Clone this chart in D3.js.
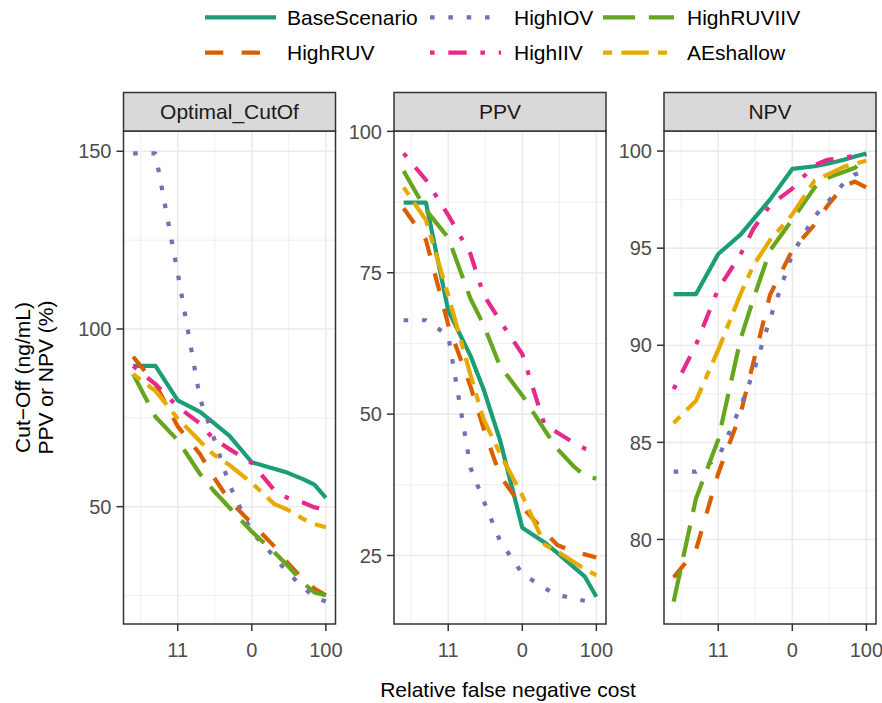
<!DOCTYPE html>
<html>
<head>
<meta charset="utf-8">
<script src="https://cdn.jsdelivr.net/npm/d3@7"></script>
<style>
  body { margin: 0; background: #fff; }
  text { font-family: "Liberation Sans", Arial, Helvetica, sans-serif; }
</style>
</head>
<body>
<svg id="chart"></svg>
<script>
(function (d3) {
  'use strict'
  // sizes
  const W = 882
  const H = 703

  // data
  const costs = [0.25, 0.5, 1, 2, 3, 5, 10, 20, 30, 50, 70, 100]
  const scenarios = ['BaseScenario', 'HighRUV', 'HighIOV', 'HighIIV', 'HighRUVIIV', 'AEshallow']
  const metrics = ['Optimal_CutOf', 'PPV', 'NPV']

  // one row per scenario, same order as `scenarios`
  const cutoffValues = [
    [89.6, 89.6, 79.9, 76.7, 73.7, 69.9, 62.5, 60.7, 59.6, 57.7, 56.2, 52.5],
    [92.2, 84.5, 72.6, 64.8, 58.6, 51.7, 45.3, 38.9, 34.4, 29.4, 27.0, 25.1],
    [149.4, 149.4, 115.7, 80.4, 70.0, 56.1, 42.8, 36.0, 31.6, 27.2, 24.6, 23.3],
    [89.6, 84.5, 78.1, 73.4, 69.2, 66.2, 62.3, 54.7, 52.5, 51.1, 49.8, 49.2],
    [87.3, 75.3, 68.7, 59.2, 54.7, 49.7, 43.0, 37.2, 33.6, 28.5, 25.9, 25.1],
    [87.3, 82.6, 74.8, 68.4, 64.8, 61.7, 56.7, 50.8, 49.2, 46.5, 45.1, 44.2]
  ]
  const ppvValues = [
    [87.4, 87.4, 68.3, 60.3, 54.4, 45.4, 29.9, 27.3, 25.4, 22.9, 21.25, 17.7],
    [86.4, 80.8, 65.8, 54.9, 47.5, 39.1, 33.6, 29.2, 26.8, 25.7, 25.2, 24.65],
    [66.6, 66.6, 63.9, 40.5, 34.7, 27.6, 21.8, 19.2, 18.1, 17.3, 17.0, 16.85],
    [96.1, 91.4, 85.2, 78.3, 71.1, 66.5, 60.6, 48.1, 46.7, 44.9, 43.9, 43.1],
    [93.0, 86.1, 81.2, 70.4, 65.8, 58.5, 53.3, 47.2, 43.8, 40.7, 39.1, 38.6],
    [90.1, 84.3, 71.0, 56.9, 49.1, 43.0, 35.6, 26.9, 25.7, 23.8, 22.6, 21.5]
  ]
  const npvValues = [
    [92.63, 92.63, 94.7, 95.7, 96.5, 97.5, 99.08, 99.22, 99.35, 99.55, 99.72, 99.88],
    [78.05, 79.45, 83.4, 86.48, 89.15, 92.59, 94.9, 96.22, 97.2, 98.2, 98.43, 98.13],
    [83.49, 83.49, 84.2, 86.84, 88.63, 91.36, 94.69, 96.64, 97.37, 98.37, 98.8, 98.99],
    [87.74, 90.02, 92.9, 94.68, 96.01, 97.2, 98.07, 99.28, 99.55, 99.66, 99.76, 99.81],
    [76.8, 82.1, 85.14, 90.32, 92.42, 94.88, 96.47, 98.12, 98.63, 98.94, 99.14, 99.59],
    [86.0, 87.14, 89.76, 92.64, 94.13, 95.41, 96.74, 98.48, 98.79, 99.2, 99.35, 99.5]
  ]

  // axis breaks
  const xTicks = [1, 10, 100]
  const xTickLabels = ['11', '0', '100']
  const xMinor = [Math.pow(10, -0.5), Math.pow(10, 0.5), Math.pow(10, 1.5)]
  const cutoffTicks = [50, 100, 150]
  const cutoffMinor = [25, 75, 125]
  const ppvTicks = [25, 50, 75, 100]
  const ppvMinor = [37.5, 62.5, 87.5]
  const npvTicks = [80, 85, 90, 95, 100]
  const npvMinor = [77.5, 82.5, 87.5, 92.5, 97.5]

  // Dark2 + ggplot linetypes
  const colors = ['#1B9E77', '#D95F02', '#7570B3', '#E7298A', '#66A61E', '#E6AB02']
  const U = 4.58
  const dashes = [
    null,
    [4, 4],
    [1, 3],
    [1, 3, 4, 3],
    [7, 3],
    [2, 2, 6, 2]
  ].map(p => p ? p.map(v => v * U).join(',') : null)
  const LW = 4.2

  // layout
  const panelX = [123.5, 394, 664]
  const PW = 212
  const TOP = 131
  const BOTTOM = 624
  const STRIP_TOP = 92.5
  const FS = 21
  const TICK_FS = 20

  const svg = d3.select('#chart').attr('width', W).attr('height', H)
  svg.append('rect').attr('width', W).attr('height', H).attr('fill', '#fff')

  function expand(lo, hi) {
    const r = hi - lo
    return [lo - 0.05 * r, hi + 0.05 * r]
  }

  const panelData = [cutoffValues, ppvValues, npvValues]
  const panelTicks = [cutoffTicks, ppvTicks, npvTicks]
  const panelMinor = [cutoffMinor, ppvMinor, npvMinor]

  const lx = expand(Math.log10(d3.min(costs)), Math.log10(d3.max(costs)))

  metrics.forEach((m, i) => {
    const x0 = panelX[i]
    const values = panelData[i]
    const all = values.flat()
    const yDom = expand(d3.min(all), d3.max(all))

    const x = d3.scaleLog().domain([Math.pow(10, lx[0]), Math.pow(10, lx[1])]).range([x0, x0 + PW])
    const y = d3.scaleLinear().domain(yDom).range([BOTTOM, TOP])

    const g = svg.append('g')
    g.append('rect').attr('x', x0).attr('y', TOP).attr('width', PW).attr('height', BOTTOM - TOP).attr('fill', '#fff')

    const inY = v => v >= yDom[0] && v <= yDom[1] + 0.2

    // grid
    g.selectAll('.ygm').data(panelMinor[i].filter(inY)).enter().append('line')
      .attr('x1', x0).attr('x2', x0 + PW).attr('y1', d => y(d)).attr('y2', d => y(d))
      .attr('stroke', '#EBEBEB').attr('stroke-width', 0.8)
    g.selectAll('.xgm').data(xMinor).enter().append('line')
      .attr('x1', d => x(d)).attr('x2', d => x(d)).attr('y1', TOP).attr('y2', BOTTOM)
      .attr('stroke', '#EBEBEB').attr('stroke-width', 0.8)
    g.selectAll('.yg').data(panelTicks[i].filter(inY)).enter().append('line')
      .attr('x1', x0).attr('x2', x0 + PW).attr('y1', d => y(d)).attr('y2', d => y(d))
      .attr('stroke', '#EBEBEB').attr('stroke-width', 1.6)
    g.selectAll('.xg').data(xTicks).enter().append('line')
      .attr('x1', d => x(d)).attr('x2', d => x(d)).attr('y1', TOP).attr('y2', BOTTOM)
      .attr('stroke', '#EBEBEB').attr('stroke-width', 1.6)

    // series
    const line = d3.line().x(d => x(d[0])).y(d => y(d[1]))
    scenarios.forEach((s, k) => {
      const pts = costs.map((c, j) => [c, values[k][j]])
      g.append('path').datum(pts)
        .attr('d', line)
        .attr('fill', 'none')
        .attr('stroke', colors[k])
        .attr('stroke-width', LW)
        .attr('stroke-dasharray', dashes[k])
        .attr('stroke-linejoin', 'round')
    })

    // border + strip
    g.append('rect').attr('x', x0).attr('y', TOP).attr('width', PW).attr('height', BOTTOM - TOP)
      .attr('fill', 'none').attr('stroke', '#333333').attr('stroke-width', 1.5)
    g.append('rect').attr('x', x0).attr('y', STRIP_TOP).attr('width', PW).attr('height', TOP - STRIP_TOP)
      .attr('fill', '#D9D9D9').attr('stroke', '#333333').attr('stroke-width', 1.5)
    g.append('text').attr('x', x0 + PW / 2).attr('y', (STRIP_TOP + TOP) / 2 + FS * 0.36)
      .attr('text-anchor', 'middle').attr('font-size', FS).attr('fill', '#1A1A1A').text(m)

    // x axis
    g.selectAll('.xt').data(xTicks).enter().append('line')
      .attr('x1', d => x(d)).attr('x2', d => x(d)).attr('y1', BOTTOM).attr('y2', BOTTOM + 7)
      .attr('stroke', '#333333').attr('stroke-width', 1.5)
    g.selectAll('.xl').data(xTicks).enter().append('text')
      .attr('x', d => x(d)).attr('y', BOTTOM + 33)
      .attr('text-anchor', 'middle').attr('font-size', TICK_FS).attr('fill', '#4D4D4D')
      .text((d, j) => xTickLabels[j])

    // y axis
    g.selectAll('.yt').data(panelTicks[i].filter(inY)).enter().append('line')
      .attr('x1', x0 - 7).attr('x2', x0).attr('y1', d => y(d)).attr('y2', d => y(d))
      .attr('stroke', '#333333').attr('stroke-width', 1.5)
    g.selectAll('.yl').data(panelTicks[i].filter(inY)).enter().append('text')
      .attr('x', x0 - 12).attr('y', d => y(d) + TICK_FS * 0.36)
      .attr('text-anchor', 'end').attr('font-size', TICK_FS).attr('fill', '#4D4D4D')
      .text(d => d)
  })

  // axis titles
  svg.append('text').attr('x', 508).attr('y', 697)
    .attr('text-anchor', 'middle').attr('font-size', FS).attr('fill', '#000')
    .text('Relative false negative cost')
  const yMid = (TOP + BOTTOM) / 2
  svg.append('text').attr('transform', `translate(30,${yMid}) rotate(-90)`)
    .attr('text-anchor', 'middle').attr('font-size', FS).attr('fill', '#000')
    .text('Cut\u2212Off (ng/mL)')
  svg.append('text').attr('transform', `translate(53,${yMid}) rotate(-90)`)
    .attr('text-anchor', 'middle').attr('font-size', FS).attr('fill', '#000')
    .text('PPV or NPV (%)')

  // legend (filled by column, 2 rows)
  const keyX = [205, 430, 603]
  const labelX = [287, 514, 687]
  const rowY = [17.3, 52.7]
  const KEY_W = 71
  scenarios.forEach((s, k) => {
    const col = Math.floor(k / 2)
    const row = k % 2
    const lg = svg.append('g')
    lg.append('line')
      .attr('x1', keyX[col]).attr('x2', keyX[col] + KEY_W)
      .attr('y1', rowY[row]).attr('y2', rowY[row])
      .attr('stroke', colors[k]).attr('stroke-width', LW)
      .attr('stroke-dasharray', dashes[k])
    lg.append('text').attr('x', labelX[col]).attr('y', rowY[row] + FS * 0.36)
      .attr('font-size', FS).attr('fill', '#000').text(s)
  })
}(d3))
</script>
</body>
</html>
